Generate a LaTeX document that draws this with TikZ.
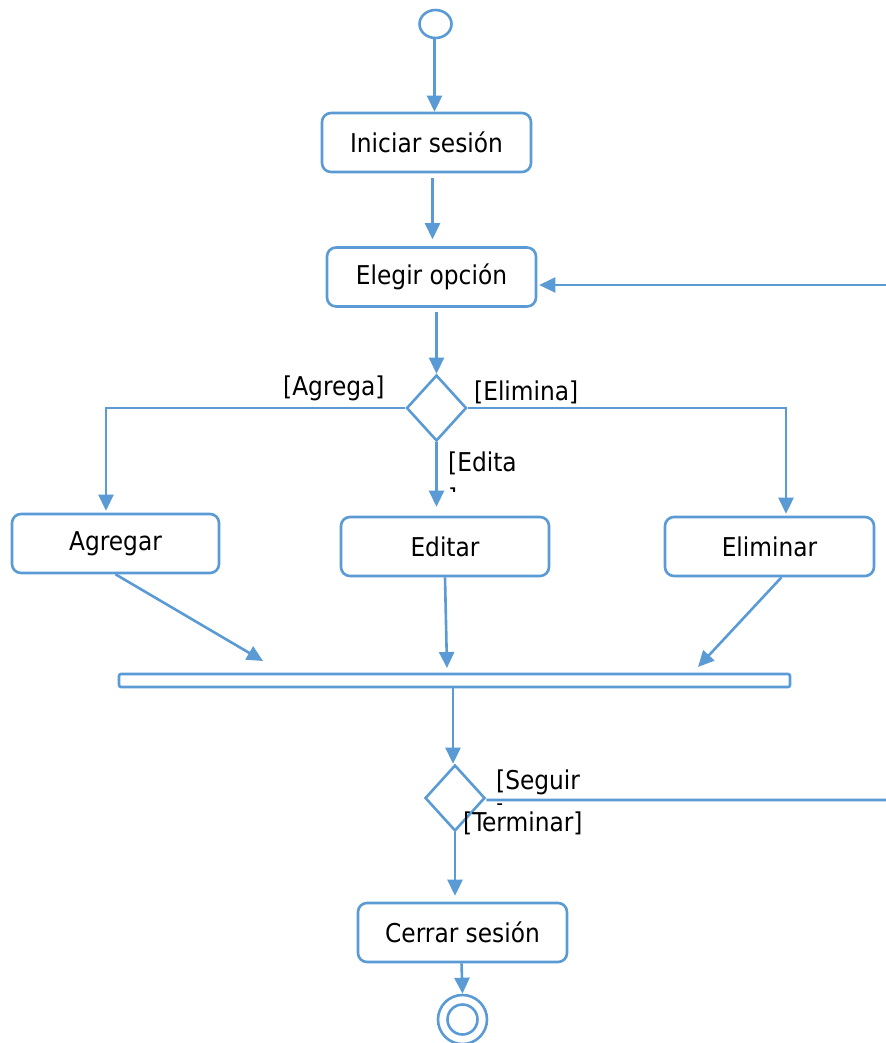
\documentclass[tikz,border=0pt]{standalone}
\usepackage{fontspec}
\setmainfont{DejaVu Sans Condensed}
\usetikzlibrary{arrows.meta,shapes.geometric}
\definecolor{umlblue}{HTML}{5B9BD5}
\begin{document}
\begin{tikzpicture}[x=1bp,y=-1bp,
  font=\fontsize{26}{30}\selectfont,
  line/.style={draw=umlblue,line width=2.6bp},
  arr/.style={line,-{Triangle[length=16bp,width=15bp]}},
  act/.style={line,rounded corners=9bp,fill=white,minimum width=209bp,minimum height=59bp,inner sep=0pt},
  dec/.style={line,diamond,fill=white,minimum width=60bp,minimum height=66bp,inner sep=0pt},
  guard/.style={inner sep=0pt,anchor=west}]
\useasboundingbox (0,0) rectangle (886,1043);

% initial and final states
\node[line,ellipse,minimum width=32bp,minimum height=28bp,inner sep=0pt] (start) at (435.5,24) {};
\node[line,circle,minimum size=49bp,inner sep=0pt] (stop) at (462.5,1019.5) {};
\node[line,circle,minimum size=30bp,inner sep=0pt] (stopin) at (462.5,1019.5) {};

% actions
\node[act] (ini) at (426.5,142.5) {Iniciar sesión};
\node[act] (ele) at (431.5,277) {Elegir opción};
\node[act,minimum width=207bp] (agr) at (115.5,543.5) {Agregar};
\node[act,minimum width=208bp] (edi) at (445,546.5) {Editar};
\node[act] (eli) at (769.5,546.5) {Eliminar};
\node[act] (cer) at (462.5,932.5) {Cerrar sesión};

% decisions and join bar
\node[dec] (d1) at (436.5,408) {};
\node[dec] (d2) at (455,798) {};
\node[line,rounded corners=2bp,minimum width=671bp,minimum height=13bp,inner sep=0pt] (bar) at (454.5,680.5) {};

% free ends of the arrows into the bar and the loop-back corner
\coordinate (inA) at (263,661);
\coordinate (inE) at (447,668);
\coordinate (inL) at (698,667);
\coordinate (loop) at (920,800);

% flow
\draw[arr] ([xshift=-1bp]start.south) -- ([xshift=-1bp]start.south |- ini.north);
\draw[arr] ([xshift=6bp,yshift=-5bp]ini.south) -- ([xshift=6bp,yshift=7bp]ini.south |- ele.north);
\draw[arr] ([yshift=-4bp]ele.south -| d1.north) -- (d1.north);
\draw[arr] (d1.south) -- ([yshift=9bp]edi.north -| d1.south);
\draw[arr] (d1.west) -| ([xshift=-9.5bp,yshift=2bp]agr.north);
\draw[arr] (d1.east) -| ([xshift=16.5bp,yshift=2bp]eli.north);
\draw[arr] (agr.south) -- (inA);
\draw[arr] (edi.south) -- (inE);
\draw[arr] ([xshift=12bp]eli.south) -- (inL);
\draw[arr] ([xshift=-1.5bp]bar.south) -- ([xshift=-1.5bp]bar.south |- d2.north);
\draw[arr] (d2.south) -- ([yshift=6bp]cer.north -| d2.south);
\draw[arr] ([xshift=-1bp]cer.south) -- (stop.north);
\draw[line] ([yshift=-2bp]d2.east) -- (loop);
\draw[arr] (loop) |- ([xshift=2bp,yshift=-8bp]ele.east);

% guards
\node[guard] (gA) at (283,388) {[Agrega]};
\node[guard] (gL) at (474,392) {[Elimina]};
\node[guard] (gE) at (448,463) {[Edita};
\node[guard] (gS) at (496,782) {[Seguir};
\node[guard] (gT) at (463,823) {[Terminar]};
\begin{scope}
  \clip (440,481) rectangle (470,491);
  \node[guard] (gE2) at (448,499) {]};
\end{scope}
\begin{scope}
  \clip (490,800) rectangle (520,804);
  \node[guard] (gS2) at (495,815) {]};
\end{scope}
\end{tikzpicture}
\end{document}
